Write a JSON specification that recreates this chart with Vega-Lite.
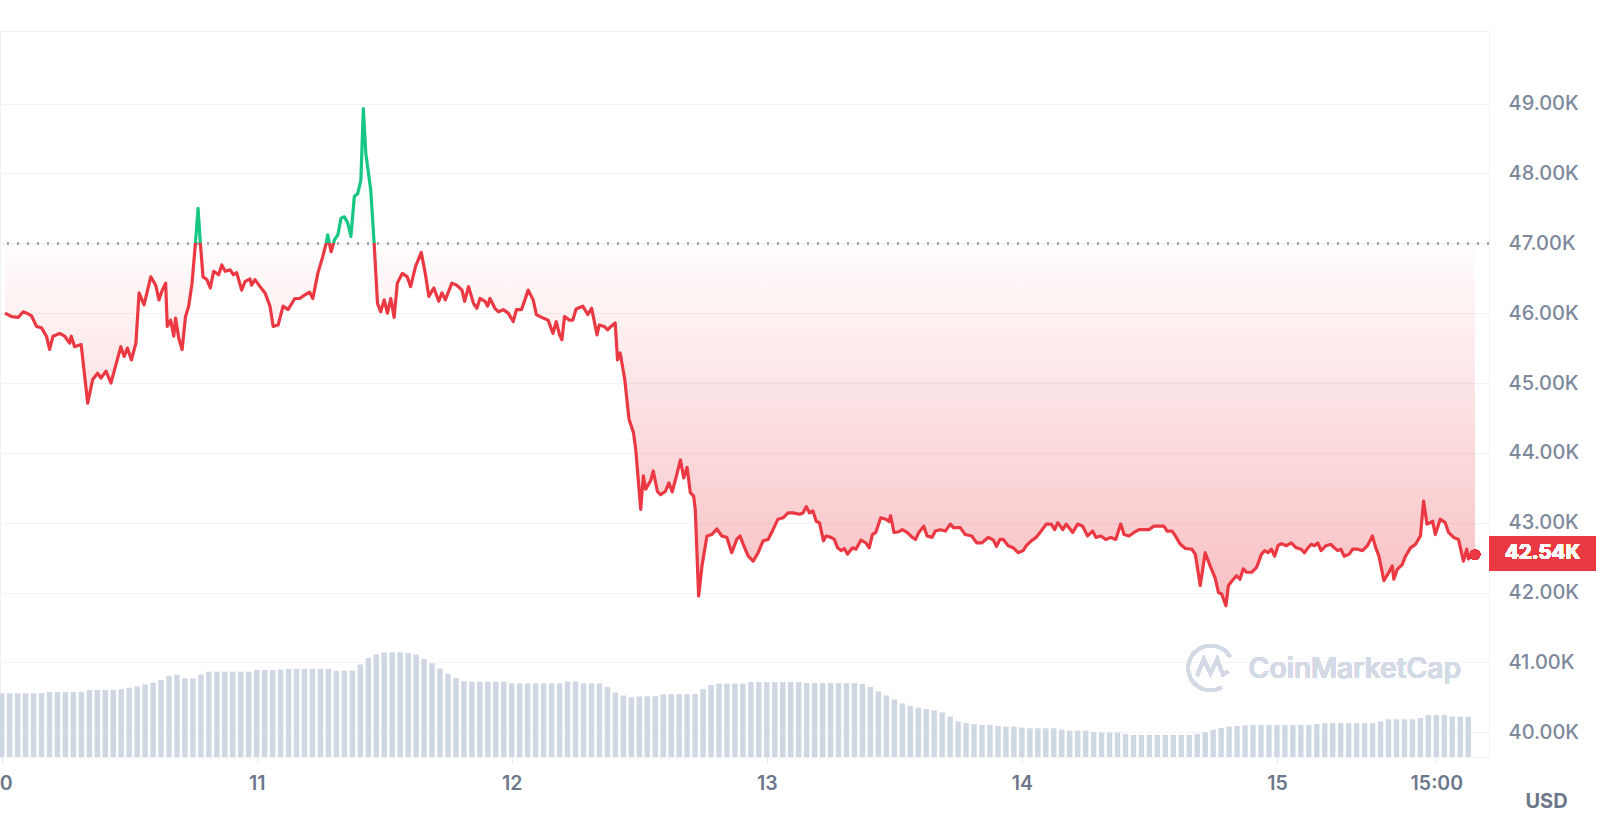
{
"$schema":"https://vega.github.io/schema/vega-lite/v6.json",
"width":1489,"height":726,"autosize":"none",
"padding":{"left":0,"top":31,"right":120,"bottom":60},
"background":"white",
"view":{"stroke":"#eef0f4","strokeWidth":1},
"config":{"font":"Inter","axis":{"labelFont":"Inter","titleFont":"Inter"},"text":{"font":"Inter"}},
"datasets":{
"price":[
{"t":"2024-01-10T00:19","p":46.00},{"t":"2024-01-10T00:57","p":45.95},{"t":"2024-01-10T01:34","p":45.94},{"t":"2024-01-10T02:02","p":46.02},{"t":"2024-01-10T02:21","p":46.00},{"t":"2024-01-10T02:49","p":45.96},{"t":"2024-01-10T03:17","p":45.81},{"t":"2024-01-10T03:45","p":45.79},{"t":"2024-01-10T04:13","p":45.67},{"t":"2024-01-10T04:31","p":45.48},{"t":"2024-01-10T04:50","p":45.67},{"t":"2024-01-10T05:27","p":45.71},{"t":"2024-01-10T05:56","p":45.67},{"t":"2024-01-10T06:24","p":45.57},{"t":"2024-01-10T06:33","p":45.67},{"t":"2024-01-10T06:52","p":45.52},{"t":"2024-01-10T07:29","p":45.55},{"t":"2024-01-10T08:06","p":44.71},{"t":"2024-01-10T08:34","p":45.05},{"t":"2024-01-10T09:02","p":45.14},{"t":"2024-01-10T09:21","p":45.07},{"t":"2024-01-10T09:49","p":45.17},{"t":"2024-01-10T10:17","p":45.00},{"t":"2024-01-10T10:45","p":45.26},{"t":"2024-01-10T11:13","p":45.52},{"t":"2024-01-10T11:32","p":45.38},{"t":"2024-01-10T11:50","p":45.50},{"t":"2024-01-10T12:13","p":45.33},{"t":"2024-01-10T12:38","p":45.57},{"t":"2024-01-10T12:56","p":46.29},{"t":"2024-01-10T13:24","p":46.12},{"t":"2024-01-10T14:02","p":46.52},{"t":"2024-01-10T14:30","p":46.40},{"t":"2024-01-10T14:48","p":46.19},{"t":"2024-01-10T15:07","p":46.33},{"t":"2024-01-10T15:26","p":46.43},{"t":"2024-01-10T15:35","p":45.81},{"t":"2024-01-10T15:54","p":45.90},{"t":"2024-01-10T16:12","p":45.67},{"t":"2024-01-10T16:22","p":45.93},{"t":"2024-01-10T16:40","p":45.64},{"t":"2024-01-10T16:59","p":45.48},{"t":"2024-01-10T17:18","p":45.95},{"t":"2024-01-10T17:36","p":46.10},{"t":"2024-01-10T17:55","p":46.43},{"t":"2024-01-10T18:14","p":47.00},{"t":"2024-01-10T18:29","p":47.50},{"t":"2024-01-10T18:42","p":47.00},{"t":"2024-01-10T18:57","p":46.52},{"t":"2024-01-10T19:19","p":46.48},{"t":"2024-01-10T19:38","p":46.36},{"t":"2024-01-10T19:57","p":46.60},{"t":"2024-01-10T20:25","p":46.55},{"t":"2024-01-10T20:43","p":46.69},{"t":"2024-01-10T21:02","p":46.60},{"t":"2024-01-10T21:30","p":46.62},{"t":"2024-01-10T21:49","p":46.55},{"t":"2024-01-10T22:07","p":46.58},{"t":"2024-01-10T22:35","p":46.33},{"t":"2024-01-10T22:54","p":46.45},{"t":"2024-01-10T23:22","p":46.49},{"t":"2024-01-10T23:31","p":46.40},{"t":"2024-01-10T23:50","p":46.48},
{"t":"2024-01-11T00:19","p":46.38},{"t":"2024-01-11T00:47","p":46.29},{"t":"2024-01-11T01:15","p":46.10},{"t":"2024-01-11T01:33","p":45.81},{"t":"2024-01-11T02:01","p":45.83},{"t":"2024-01-11T02:29","p":46.10},{"t":"2024-01-11T02:57","p":46.05},{"t":"2024-01-11T03:35","p":46.21},{"t":"2024-01-11T04:03","p":46.21},{"t":"2024-01-11T04:31","p":46.26},{"t":"2024-01-11T04:59","p":46.30},{"t":"2024-01-11T05:17","p":46.21},{"t":"2024-01-11T05:45","p":46.57},{"t":"2024-01-11T06:13","p":46.81},{"t":"2024-01-11T06:32","p":47.00},{"t":"2024-01-11T06:41","p":47.12},{"t":"2024-01-11T07:00","p":46.88},{"t":"2024-01-11T07:19","p":47.05},{"t":"2024-01-11T07:38","p":47.12},{"t":"2024-01-11T07:56","p":47.36},{"t":"2024-01-11T08:15","p":47.38},{"t":"2024-01-11T08:34","p":47.29},{"t":"2024-01-11T08:52","p":47.10},{"t":"2024-01-11T09:11","p":47.67},{"t":"2024-01-11T09:30","p":47.71},{"t":"2024-01-11T09:48","p":47.90},{"t":"2024-01-11T10:02","p":48.93},{"t":"2024-01-11T10:16","p":48.29},{"t":"2024-01-11T10:44","p":47.76},{"t":"2024-01-11T11:03","p":47.00},{"t":"2024-01-11T11:22","p":46.14},{"t":"2024-01-11T11:40","p":46.02},{"t":"2024-01-11T12:00","p":46.19},{"t":"2024-01-11T12:18","p":46.00},{"t":"2024-01-11T12:37","p":46.21},{"t":"2024-01-11T12:56","p":45.94},{"t":"2024-01-11T13:14","p":46.43},{"t":"2024-01-11T13:42","p":46.57},{"t":"2024-01-11T14:10","p":46.52},{"t":"2024-01-11T14:29","p":46.38},{"t":"2024-01-11T14:57","p":46.67},{"t":"2024-01-11T15:29","p":46.87},{"t":"2024-01-11T15:53","p":46.55},{"t":"2024-01-11T16:12","p":46.24},{"t":"2024-01-11T16:40","p":46.36},{"t":"2024-01-11T17:08","p":46.17},{"t":"2024-01-11T17:26","p":46.29},{"t":"2024-01-11T17:45","p":46.19},{"t":"2024-01-11T18:22","p":46.43},{"t":"2024-01-11T18:50","p":46.40},{"t":"2024-01-11T19:19","p":46.33},{"t":"2024-01-11T19:34","p":46.17},{"t":"2024-01-11T19:56","p":46.38},{"t":"2024-01-11T20:24","p":46.14},{"t":"2024-01-11T20:43","p":46.07},{"t":"2024-01-11T21:01","p":46.21},{"t":"2024-01-11T21:29","p":46.17},{"t":"2024-01-11T21:44","p":46.10},{"t":"2024-01-11T21:57","p":46.21},{"t":"2024-01-11T22:25","p":46.07},{"t":"2024-01-11T22:44","p":46.02},{"t":"2024-01-11T23:12","p":46.05},{"t":"2024-01-11T23:40","p":46.00},
{"t":"2024-01-12T00:08","p":45.88},{"t":"2024-01-12T00:27","p":46.05},{"t":"2024-01-12T00:55","p":46.05},{"t":"2024-01-12T01:33","p":46.33},{"t":"2024-01-12T02:01","p":46.19},{"t":"2024-01-12T02:19","p":45.98},{"t":"2024-01-12T02:57","p":45.93},{"t":"2024-01-12T03:25","p":45.90},{"t":"2024-01-12T03:53","p":45.71},{"t":"2024-01-12T04:11","p":45.88},{"t":"2024-01-12T04:30","p":45.69},{"t":"2024-01-12T04:43","p":45.62},{"t":"2024-01-12T04:58","p":45.95},{"t":"2024-01-12T05:26","p":45.90},{"t":"2024-01-12T05:45","p":45.90},{"t":"2024-01-12T06:03","p":46.06},{"t":"2024-01-12T06:41","p":46.10},{"t":"2024-01-12T07:09","p":45.98},{"t":"2024-01-12T07:31","p":46.07},{"t":"2024-01-12T08:01","p":45.69},{"t":"2024-01-12T08:14","p":45.83},{"t":"2024-01-12T08:42","p":45.81},{"t":"2024-01-12T09:01","p":45.76},{"t":"2024-01-12T09:20","p":45.81},{"t":"2024-01-12T09:44","p":45.86},{"t":"2024-01-12T09:57","p":45.33},{"t":"2024-01-12T10:12","p":45.43},{"t":"2024-01-12T10:38","p":45.05},{"t":"2024-01-12T11:02","p":44.48},{"t":"2024-01-12T11:27","p":44.29},{"t":"2024-01-12T11:40","p":44.05},{"t":"2024-01-12T12:08","p":43.19},{"t":"2024-01-12T12:23","p":43.67},{"t":"2024-01-12T12:36","p":43.48},{"t":"2024-01-12T13:04","p":43.60},{"t":"2024-01-12T13:19","p":43.74},{"t":"2024-01-12T13:42","p":43.45},{"t":"2024-01-12T14:00","p":43.40},{"t":"2024-01-12T14:28","p":43.45},{"t":"2024-01-12T14:47","p":43.57},{"t":"2024-01-12T15:06","p":43.44},{"t":"2024-01-12T15:34","p":43.71},{"t":"2024-01-12T15:52","p":43.90},{"t":"2024-01-12T16:11","p":43.64},{"t":"2024-01-12T16:30","p":43.79},{"t":"2024-01-12T16:48","p":43.43},{"t":"2024-01-12T17:07","p":43.38},{"t":"2024-01-12T17:16","p":43.19},{"t":"2024-01-12T17:35","p":41.95},{"t":"2024-01-12T17:54","p":42.38},{"t":"2024-01-12T18:22","p":42.81},{"t":"2024-01-12T18:50","p":42.83},{"t":"2024-01-12T19:18","p":42.91},{"t":"2024-01-12T19:46","p":42.81},{"t":"2024-01-12T20:14","p":42.79},{"t":"2024-01-12T20:42","p":42.57},{"t":"2024-01-12T21:10","p":42.76},{"t":"2024-01-12T21:29","p":42.81},{"t":"2024-01-12T21:47","p":42.69},{"t":"2024-01-12T22:15","p":42.52},{"t":"2024-01-12T22:43","p":42.45},{"t":"2024-01-12T23:11","p":42.57},{"t":"2024-01-12T23:39","p":42.74},
{"t":"2024-01-13T00:07","p":42.76},{"t":"2024-01-13T00:35","p":42.90},{"t":"2024-01-13T01:03","p":43.05},{"t":"2024-01-13T01:32","p":43.07},{"t":"2024-01-13T02:00","p":43.14},{"t":"2024-01-13T02:28","p":43.14},{"t":"2024-01-13T03:05","p":43.12},{"t":"2024-01-13T03:24","p":43.14},{"t":"2024-01-13T03:43","p":43.23},{"t":"2024-01-13T04:01","p":43.14},{"t":"2024-01-13T04:20","p":43.17},{"t":"2024-01-13T04:39","p":43.02},{"t":"2024-01-13T04:57","p":43.00},{"t":"2024-01-13T05:20","p":42.74},{"t":"2024-01-13T05:35","p":42.81},{"t":"2024-01-13T06:03","p":42.79},{"t":"2024-01-13T06:21","p":42.76},{"t":"2024-01-13T06:40","p":42.64},{"t":"2024-01-13T06:59","p":42.60},{"t":"2024-01-13T07:17","p":42.63},{"t":"2024-01-13T07:36","p":42.55},{"t":"2024-01-13T08:04","p":42.64},{"t":"2024-01-13T08:23","p":42.62},{"t":"2024-01-13T08:51","p":42.75},{"t":"2024-01-13T09:19","p":42.71},{"t":"2024-01-13T09:38","p":42.64},{"t":"2024-01-13T09:56","p":42.83},{"t":"2024-01-13T10:15","p":42.86},{"t":"2024-01-13T10:43","p":43.07},{"t":"2024-01-13T11:11","p":43.05},{"t":"2024-01-13T11:30","p":43.02},{"t":"2024-01-13T11:39","p":43.10},{"t":"2024-01-13T11:58","p":42.86},{"t":"2024-01-13T12:26","p":42.87},{"t":"2024-01-13T12:44","p":42.90},{"t":"2024-01-13T13:12","p":42.86},{"t":"2024-01-13T13:41","p":42.79},{"t":"2024-01-13T14:00","p":42.76},{"t":"2024-01-13T14:18","p":42.86},{"t":"2024-01-13T14:46","p":42.95},{"t":"2024-01-13T15:05","p":42.81},{"t":"2024-01-13T15:33","p":42.79},{"t":"2024-01-13T15:52","p":42.88},{"t":"2024-01-13T16:20","p":42.90},{"t":"2024-01-13T16:48","p":42.88},{"t":"2024-01-13T17:16","p":42.98},{"t":"2024-01-13T17:34","p":42.93},{"t":"2024-01-13T18:12","p":42.93},{"t":"2024-01-13T18:40","p":42.83},{"t":"2024-01-13T19:17","p":42.81},{"t":"2024-01-13T19:45","p":42.71},{"t":"2024-01-13T20:13","p":42.71},{"t":"2024-01-13T20:51","p":42.79},{"t":"2024-01-13T21:19","p":42.75},{"t":"2024-01-13T21:37","p":42.66},{"t":"2024-01-13T21:56","p":42.76},{"t":"2024-01-13T22:15","p":42.76},{"t":"2024-01-13T22:43","p":42.67},{"t":"2024-01-13T23:11","p":42.64},{"t":"2024-01-13T23:39","p":42.57},
{"t":"2024-01-14T00:07","p":42.60},{"t":"2024-01-14T00:25","p":42.67},{"t":"2024-01-14T00:53","p":42.74},{"t":"2024-01-14T01:21","p":42.79},{"t":"2024-01-14T01:49","p":42.88},{"t":"2024-01-14T02:18","p":42.98},{"t":"2024-01-14T02:46","p":42.98},{"t":"2024-01-14T03:05","p":42.90},{"t":"2024-01-14T03:23","p":43.00},{"t":"2024-01-14T03:51","p":42.90},{"t":"2024-01-14T04:10","p":42.98},{"t":"2024-01-14T04:47","p":42.86},{"t":"2024-01-14T05:15","p":42.98},{"t":"2024-01-14T05:43","p":42.95},{"t":"2024-01-14T06:11","p":42.81},{"t":"2024-01-14T06:39","p":42.88},{"t":"2024-01-14T06:58","p":42.79},{"t":"2024-01-14T07:26","p":42.81},{"t":"2024-01-14T07:54","p":42.76},{"t":"2024-01-14T08:22","p":42.79},{"t":"2024-01-14T08:50","p":42.76},{"t":"2024-01-14T09:18","p":42.98},{"t":"2024-01-14T09:37","p":42.83},{"t":"2024-01-14T10:05","p":42.81},{"t":"2024-01-14T10:33","p":42.86},{"t":"2024-01-14T11:01","p":42.90},{"t":"2024-01-14T11:29","p":42.90},{"t":"2024-01-14T11:57","p":42.90},{"t":"2024-01-14T12:25","p":42.95},{"t":"2024-01-14T12:54","p":42.95},{"t":"2024-01-14T13:22","p":42.95},{"t":"2024-01-14T13:40","p":42.88},{"t":"2024-01-14T14:08","p":42.88},{"t":"2024-01-14T14:27","p":42.81},{"t":"2024-01-14T14:55","p":42.69},{"t":"2024-01-14T15:23","p":42.63},{"t":"2024-01-14T16:00","p":42.62},{"t":"2024-01-14T16:19","p":42.55},{"t":"2024-01-14T16:47","p":42.10},{"t":"2024-01-14T17:15","p":42.57},{"t":"2024-01-14T17:43","p":42.38},{"t":"2024-01-14T18:11","p":42.21},{"t":"2024-01-14T18:30","p":42.00},{"t":"2024-01-14T18:48","p":41.98},{"t":"2024-01-14T19:12","p":41.81},{"t":"2024-01-14T19:26","p":42.10},{"t":"2024-01-14T19:54","p":42.19},{"t":"2024-01-14T20:12","p":42.24},{"t":"2024-01-14T20:31","p":42.19},{"t":"2024-01-14T20:50","p":42.34},{"t":"2024-01-14T21:08","p":42.29},{"t":"2024-01-14T21:37","p":42.29},{"t":"2024-01-14T22:05","p":42.36},{"t":"2024-01-14T22:33","p":42.55},{"t":"2024-01-14T22:51","p":42.60},{"t":"2024-01-14T23:10","p":42.57},{"t":"2024-01-14T23:29","p":42.62},{"t":"2024-01-14T23:47","p":42.52},
{"t":"2024-01-15T00:06","p":42.67},{"t":"2024-01-15T00:25","p":42.70},{"t":"2024-01-15T00:53","p":42.67},{"t":"2024-01-15T01:21","p":42.71},{"t":"2024-01-15T01:49","p":42.64},{"t":"2024-01-15T02:17","p":42.62},{"t":"2024-01-15T02:35","p":42.57},{"t":"2024-01-15T02:55","p":42.64},{"t":"2024-01-15T03:13","p":42.69},{"t":"2024-01-15T03:32","p":42.67},{"t":"2024-01-15T03:51","p":42.71},{"t":"2024-01-15T04:09","p":42.60},{"t":"2024-01-15T04:37","p":42.67},{"t":"2024-01-15T05:05","p":42.69},{"t":"2024-01-15T05:24","p":42.64},{"t":"2024-01-15T05:43","p":42.60},{"t":"2024-01-15T06:01","p":42.62},{"t":"2024-01-15T06:20","p":42.52},{"t":"2024-01-15T06:48","p":42.55},{"t":"2024-01-15T07:07","p":42.62},{"t":"2024-01-15T07:35","p":42.62},{"t":"2024-01-15T08:03","p":42.60},{"t":"2024-01-15T08:31","p":42.67},{"t":"2024-01-15T08:59","p":42.81},{"t":"2024-01-15T09:18","p":42.64},{"t":"2024-01-15T09:36","p":42.52},{"t":"2024-01-15T10:04","p":42.17},{"t":"2024-01-15T10:32","p":42.29},{"t":"2024-01-15T10:51","p":42.38},{"t":"2024-01-15T11:00","p":42.19},{"t":"2024-01-15T11:19","p":42.33},{"t":"2024-01-15T11:47","p":42.40},{"t":"2024-01-15T12:06","p":42.52},{"t":"2024-01-15T12:34","p":42.64},{"t":"2024-01-15T13:02","p":42.69},{"t":"2024-01-15T13:30","p":42.81},{"t":"2024-01-15T13:48","p":43.31},{"t":"2024-01-15T14:07","p":42.98},{"t":"2024-01-15T14:26","p":43.00},{"t":"2024-01-15T14:39","p":43.02},{"t":"2024-01-15T14:54","p":42.83},{"t":"2024-01-15T15:22","p":43.05},{"t":"2024-01-15T15:50","p":43.00},{"t":"2024-01-15T16:09","p":42.86},{"t":"2024-01-15T16:37","p":42.79},{"t":"2024-01-15T17:05","p":42.76},{"t":"2024-01-15T17:33","p":42.45},{"t":"2024-01-15T17:52","p":42.62},{"t":"2024-01-15T18:01","p":42.48},{"t":"2024-01-15T18:20","p":42.57},{"t":"2024-01-15T18:38","p":42.54}
],
"vol":[
{"t":"2024-01-10T00:00","v":42.5},{"t":"2024-01-10T00:45","v":42.5},{"t":"2024-01-10T01:30","v":42.5},{"t":"2024-01-10T02:15","v":42.5},{"t":"2024-01-10T03:00","v":42.5},{"t":"2024-01-10T03:45","v":42.5},{"t":"2024-01-10T04:30","v":43.5},{"t":"2024-01-10T05:15","v":43.5},{"t":"2024-01-10T06:00","v":43.5},{"t":"2024-01-10T06:45","v":43.5},{"t":"2024-01-10T07:30","v":43.5},{"t":"2024-01-10T08:15","v":44.7},{"t":"2024-01-10T09:00","v":44.7},{"t":"2024-01-10T09:45","v":44.7},{"t":"2024-01-10T10:30","v":44.7},{"t":"2024-01-10T11:15","v":45.2},{"t":"2024-01-10T12:00","v":46.2},{"t":"2024-01-10T12:45","v":47.1},{"t":"2024-01-10T13:30","v":48.3},{"t":"2024-01-10T14:15","v":49.5},{"t":"2024-01-10T15:00","v":51.3},{"t":"2024-01-10T15:45","v":54},{"t":"2024-01-10T16:30","v":54.8},{"t":"2024-01-10T17:15","v":52.5},{"t":"2024-01-10T18:00","v":52.3},{"t":"2024-01-10T18:45","v":55},{"t":"2024-01-10T19:30","v":56.9},{"t":"2024-01-10T20:15","v":56.9},{"t":"2024-01-10T21:00","v":56.9},{"t":"2024-01-10T21:45","v":56.9},{"t":"2024-01-10T22:30","v":56.9},{"t":"2024-01-10T23:15","v":56.9},
{"t":"2024-01-11T00:00","v":58},{"t":"2024-01-11T00:45","v":58},{"t":"2024-01-11T01:30","v":58},{"t":"2024-01-11T02:15","v":58.3},{"t":"2024-01-11T03:00","v":58.7},{"t":"2024-01-11T03:45","v":58.7},{"t":"2024-01-11T04:30","v":58.7},{"t":"2024-01-11T05:15","v":58.7},{"t":"2024-01-11T06:00","v":58.7},{"t":"2024-01-11T06:45","v":58.7},{"t":"2024-01-11T07:30","v":57.5},{"t":"2024-01-11T08:15","v":57.5},{"t":"2024-01-11T09:00","v":57.7},{"t":"2024-01-11T09:45","v":61.7},{"t":"2024-01-11T10:30","v":66},{"t":"2024-01-11T11:15","v":68.3},{"t":"2024-01-11T12:00","v":69.7},{"t":"2024-01-11T12:45","v":69.8},{"t":"2024-01-11T13:30","v":69.8},{"t":"2024-01-11T14:15","v":69.3},{"t":"2024-01-11T15:00","v":68.3},{"t":"2024-01-11T15:45","v":65.3},{"t":"2024-01-11T16:30","v":62.5},{"t":"2024-01-11T17:15","v":59},{"t":"2024-01-11T18:00","v":55.5},{"t":"2024-01-11T18:45","v":52.7},{"t":"2024-01-11T19:30","v":50.5},{"t":"2024-01-11T20:15","v":50.2},{"t":"2024-01-11T21:00","v":50.2},{"t":"2024-01-11T21:45","v":50.2},{"t":"2024-01-11T22:30","v":50.2},{"t":"2024-01-11T23:15","v":50.2},
{"t":"2024-01-12T00:00","v":49.1},{"t":"2024-01-12T00:45","v":49.1},{"t":"2024-01-12T01:30","v":49.1},{"t":"2024-01-12T02:15","v":49.1},{"t":"2024-01-12T03:00","v":49.1},{"t":"2024-01-12T03:45","v":49.1},{"t":"2024-01-12T04:30","v":49.1},{"t":"2024-01-12T05:15","v":50.2},{"t":"2024-01-12T06:00","v":50.2},{"t":"2024-01-12T06:45","v":49.1},{"t":"2024-01-12T07:30","v":49.1},{"t":"2024-01-12T08:15","v":49.1},{"t":"2024-01-12T09:00","v":46.7},{"t":"2024-01-12T09:45","v":43},{"t":"2024-01-12T10:30","v":41},{"t":"2024-01-12T11:15","v":39.8},{"t":"2024-01-12T12:00","v":40.3},{"t":"2024-01-12T12:45","v":40.5},{"t":"2024-01-12T13:30","v":40.5},{"t":"2024-01-12T14:15","v":41.8},{"t":"2024-01-12T15:00","v":41.8},{"t":"2024-01-12T15:45","v":41.8},{"t":"2024-01-12T16:30","v":41.8},{"t":"2024-01-12T17:15","v":42},{"t":"2024-01-12T18:00","v":45.3},{"t":"2024-01-12T18:45","v":48},{"t":"2024-01-12T19:30","v":48.9},{"t":"2024-01-12T20:15","v":48.9},{"t":"2024-01-12T21:00","v":48.9},{"t":"2024-01-12T21:45","v":48.9},{"t":"2024-01-12T22:30","v":50},{"t":"2024-01-12T23:15","v":50},
{"t":"2024-01-13T00:00","v":50},{"t":"2024-01-13T00:45","v":50},{"t":"2024-01-13T01:30","v":50},{"t":"2024-01-13T02:15","v":50},{"t":"2024-01-13T03:00","v":50},{"t":"2024-01-13T03:45","v":49.3},{"t":"2024-01-13T04:30","v":49.3},{"t":"2024-01-13T05:15","v":49.3},{"t":"2024-01-13T06:00","v":49.3},{"t":"2024-01-13T06:45","v":49.3},{"t":"2024-01-13T07:30","v":49.3},{"t":"2024-01-13T08:15","v":49.3},{"t":"2024-01-13T09:00","v":48.7},{"t":"2024-01-13T09:45","v":46.7},{"t":"2024-01-13T10:30","v":43.7},{"t":"2024-01-13T11:15","v":41},{"t":"2024-01-13T12:00","v":38.3},{"t":"2024-01-13T12:45","v":35.7},{"t":"2024-01-13T13:30","v":34},{"t":"2024-01-13T14:15","v":32.9},{"t":"2024-01-13T15:00","v":32},{"t":"2024-01-13T15:45","v":31},{"t":"2024-01-13T16:30","v":29.7},{"t":"2024-01-13T17:15","v":27},{"t":"2024-01-13T18:00","v":23.7},{"t":"2024-01-13T18:45","v":22.7},{"t":"2024-01-13T19:30","v":22},{"t":"2024-01-13T20:15","v":21.3},{"t":"2024-01-13T21:00","v":21.3},{"t":"2024-01-13T21:45","v":20.7},{"t":"2024-01-13T22:30","v":20.2},{"t":"2024-01-13T23:15","v":20.2},
{"t":"2024-01-14T00:00","v":19.7},{"t":"2024-01-14T00:45","v":19.1},{"t":"2024-01-14T01:30","v":19.1},{"t":"2024-01-14T02:15","v":19.1},{"t":"2024-01-14T03:00","v":19.1},{"t":"2024-01-14T03:45","v":18.3},{"t":"2024-01-14T04:30","v":17.5},{"t":"2024-01-14T05:15","v":17.5},{"t":"2024-01-14T06:00","v":17.5},{"t":"2024-01-14T06:45","v":16.7},{"t":"2024-01-14T07:30","v":16.2},{"t":"2024-01-14T08:15","v":16.2},{"t":"2024-01-14T09:00","v":16.2},{"t":"2024-01-14T09:45","v":15.3},{"t":"2024-01-14T10:30","v":14.7},{"t":"2024-01-14T11:15","v":14.7},{"t":"2024-01-14T12:00","v":14.7},{"t":"2024-01-14T12:45","v":14.7},{"t":"2024-01-14T13:30","v":14.7},{"t":"2024-01-14T14:15","v":14.7},{"t":"2024-01-14T15:00","v":14.7},{"t":"2024-01-14T15:45","v":14.7},{"t":"2024-01-14T16:30","v":15.3},{"t":"2024-01-14T17:15","v":16.7},{"t":"2024-01-14T18:00","v":18},{"t":"2024-01-14T18:45","v":19.3},{"t":"2024-01-14T19:30","v":20.2},{"t":"2024-01-14T20:15","v":20.7},{"t":"2024-01-14T21:00","v":21.1},{"t":"2024-01-14T21:45","v":21.3},{"t":"2024-01-14T22:30","v":21.3},{"t":"2024-01-14T23:15","v":21.3},
{"t":"2024-01-15T00:00","v":21.3},{"t":"2024-01-15T00:45","v":21.3},{"t":"2024-01-15T01:30","v":21.3},{"t":"2024-01-15T02:15","v":21.3},{"t":"2024-01-15T03:00","v":21.3},{"t":"2024-01-15T03:45","v":22},{"t":"2024-01-15T04:30","v":22.5},{"t":"2024-01-15T05:15","v":22.5},{"t":"2024-01-15T06:00","v":22.5},{"t":"2024-01-15T06:45","v":22.5},{"t":"2024-01-15T07:30","v":22.5},{"t":"2024-01-15T08:15","v":22.5},{"t":"2024-01-15T09:00","v":22.5},{"t":"2024-01-15T09:45","v":23.7},{"t":"2024-01-15T10:30","v":25.1},{"t":"2024-01-15T11:15","v":25.1},{"t":"2024-01-15T12:00","v":25.1},{"t":"2024-01-15T12:45","v":25.1},{"t":"2024-01-15T13:30","v":26},{"t":"2024-01-15T14:15","v":28},{"t":"2024-01-15T15:00","v":28},{"t":"2024-01-15T15:45","v":28},{"t":"2024-01-15T16:30","v":27},{"t":"2024-01-15T17:15","v":26.9},{"t":"2024-01-15T18:00","v":26.9}
]},
"layer":[
{"data":{"name":"vol"},
 "mark":{"type":"bar","color":"#cfd6e4","width":5.4},
 "encoding":{
  "x":{"field":"t","type":"temporal","scale":{"domain":[{"year":2024,"month":1,"date":10,"hours":0,"minutes":19},{"year":2024,"month":1,"date":15,"hours":19,"minutes":29}]},
   "axis":{"values":[{"year":2024,"month":1,"date":10},{"year":2024,"month":1,"date":11},{"year":2024,"month":1,"date":12},{"year":2024,"month":1,"date":13},{"year":2024,"month":1,"date":14},{"year":2024,"month":1,"date":15},{"year":2024,"month":1,"date":15,"hours":15}],
    "labelExpr":"hours(datum.value) == 0 ? '' + date(datum.value) : timeFormat(datum.value, '%H:%M')",
    "labelFontSize":19.5,"labelFontWeight":600,"labelColor":"#6c778b","labelPadding":11,"tickSize":6,"tickColor":"#e4e8ee","domainColor":"#eef0f4","grid":false,"title":null,"labelFlush":false,"labelOverlap":false,"labelBound":false}},
  "y":{"field":"v","type":"quantitative","scale":{"domain":[0,484]},"axis":null}
 }},
{"data":{"name":"price"},
 "layer":[
  {"mark":{"type":"area","fill":{"gradient":"linear","x1":0,"y1":0,"x2":0,"y2":1,"stops":[{"offset":0,"color":"rgba(22,199,132,0.06)"},{"offset":0.27107,"color":"rgba(22,199,132,0.0)"},{"offset":0.27108,"color":"rgba(234,57,67,0.01)"},{"offset":1,"color":"rgba(234,57,67,0.32)"}]}},
   "encoding":{
    "x":{"field":"t","type":"temporal","scale":{"domain":[{"year":2024,"month":1,"date":10,"hours":0,"minutes":19},{"year":2024,"month":1,"date":15,"hours":19,"minutes":29}]}},
    "y":{"field":"p","type":"quantitative","scale":{"domain":[39.645,50.04],"zero":false,"nice":false},
     "axis":{"orient":"right","values":[40,41,42,43,44,45,46,47,48,49],"labelExpr":"format(datum.value, '.2f') + 'K'","labelFontSize":20,"labelFontWeight":500,"labelColor":"#7d889c","labelPadding":19,"labelAlign":"left","ticks":false,"domain":true,"domainColor":"#eef0f4","grid":true,"gridColor":"#f1f3f6","title":"USD","titleAngle":0,"titleX":57,"titleY":770,"titleFontSize":20,"titleFontWeight":700,"titleColor":"#6c778b","titleAlign":"center","titleBaseline":"middle"}},
    "y2":{"datum":47}
   }},
  {"mark":{"type":"rule","color":"#9ea5b2","strokeWidth":1.7,"strokeDash":[2,8]},
   "encoding":{"y":{"datum":47,"type":"quantitative","scale":{"domain":[39.645,50.04],"zero":false,"nice":false}}}},
  {"mark":{"type":"line","strokeWidth":3.2,"strokeJoin":"round","stroke":{"gradient":"linear","x1":0,"y1":0,"x2":0,"y2":1,"stops":[{"offset":0,"color":"#16c784"},{"offset":0.27107,"color":"#16c784"},{"offset":0.27108,"color":"#ea3943"},{"offset":1,"color":"#ea3943"}]}},
   "encoding":{
    "x":{"field":"t","type":"temporal","scale":{"domain":[{"year":2024,"month":1,"date":10,"hours":0,"minutes":19},{"year":2024,"month":1,"date":15,"hours":19,"minutes":29}]}},
    "y":{"field":"p","type":"quantitative","scale":{"domain":[39.645,50.04],"zero":false,"nice":false}}
   }},
  {"mark":{"type":"circle","color":"#ea3943","size":110,"opacity":1},
   "encoding":{
    "x":{"datum":{"year":2024,"month":1,"date":15,"hours":18,"minutes":38},"type":"temporal","scale":{"domain":[{"year":2024,"month":1,"date":10,"hours":0,"minutes":19},{"year":2024,"month":1,"date":15,"hours":19,"minutes":29}]}},
    "y":{"datum":42.54,"type":"quantitative","scale":{"domain":[39.645,50.04],"zero":false,"nice":false}}
   }},
  {"mark":{"type":"rect","color":"#ea3943","clip":false},
   "encoding":{
    "x":{"datum":{"year":2024,"month":1,"date":15,"hours":20,"minutes":0},"type":"temporal","scale":{"domain":[{"year":2024,"month":1,"date":10,"hours":0,"minutes":19},{"year":2024,"month":1,"date":15,"hours":19,"minutes":29}]}},
    "x2":{"datum":{"year":2024,"month":1,"date":16,"hours":6,"minutes":0}},
    "y":{"datum":42.80,"type":"quantitative","scale":{"domain":[39.645,50.04],"zero":false,"nice":false}},
    "y2":{"datum":42.32}
   }},
  {"mark":{"type":"text","text":"42.54K","color":"white","fontSize":20.5,"fontWeight":700,"align":"center","baseline":"middle"},
   "encoding":{
    "x":{"datum":{"year":2024,"month":1,"date":16,"hours":1,"minutes":0},"type":"temporal","scale":{"domain":[{"year":2024,"month":1,"date":10,"hours":0,"minutes":19},{"year":2024,"month":1,"date":15,"hours":19,"minutes":29}]}},
    "y":{"datum":42.56,"type":"quantitative","scale":{"domain":[39.645,50.04],"zero":false,"nice":false}}
   }},
  {"mark":{"type":"text","text":"CoinMarketCap","color":"#d3d9e5","fontSize":28.5,"fontWeight":500,"align":"left","baseline":"middle"},
   "encoding":{
    "x":{"datum":{"year":2024,"month":1,"date":14,"hours":21,"minutes":20},"type":"temporal","scale":{"domain":[{"year":2024,"month":1,"date":10,"hours":0,"minutes":19},{"year":2024,"month":1,"date":15,"hours":19,"minutes":29}]}},
    "y":{"datum":40.905,"type":"quantitative","scale":{"domain":[39.645,50.04],"zero":false,"nice":false}}
   }},
  {"mark":{"type":"point","shape":"M0.87,-0.5 A1,1 0 1 0 0.5,0.87 M-0.6,0.35 L-0.3,-0.4 L0,0.25 L0.3,-0.4 L0.55,0.3 L0.8,0.15","size":2000,"filled":false,"stroke":"#d3d9e5","strokeWidth":3.3,"opacity":1},
   "encoding":{
    "x":{"datum":{"year":2024,"month":1,"date":14,"hours":17,"minutes":45},"type":"temporal","scale":{"domain":[{"year":2024,"month":1,"date":10,"hours":0,"minutes":19},{"year":2024,"month":1,"date":15,"hours":19,"minutes":29}]}},
    "y":{"datum":40.92,"type":"quantitative","scale":{"domain":[39.645,50.04],"zero":false,"nice":false}}
   }}
 ]}
],
"resolve":{"scale":{"y":"independent"}}
}
